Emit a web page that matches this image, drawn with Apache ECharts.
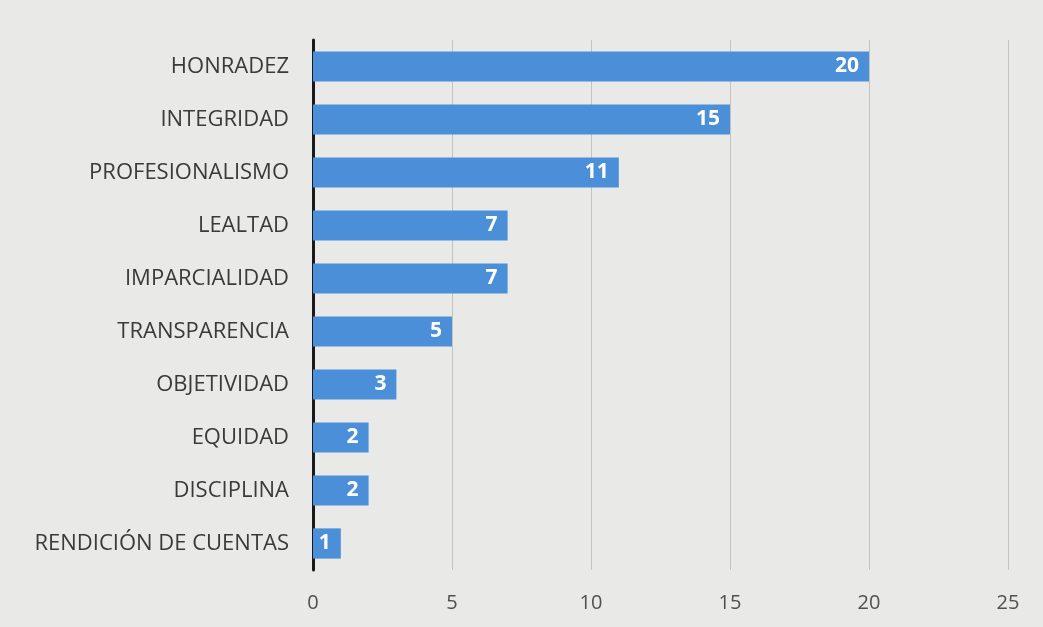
<!DOCTYPE html>
<html>
<head>
<meta charset="utf-8">
<script src="https://cdn.jsdelivr.net/npm/echarts@6/dist/echarts.min.js"></script>
<style>
html,body{margin:0;padding:0;background:#e9e9e8;}
#c{width:1043px;height:627px;}
</style>
</head>
<body>
<div id="c"></div>
<script>
const categories = ["HONRADEZ","INTEGRIDAD","PROFESIONALISMO","LEALTAD","IMPARCIALIDAD","TRANSPARENCIA","OBJETIVIDAD","EQUIDAD","DISCIPLINA","RENDICIÓN DE CUENTAS"];
const values = [20,15,11,7,7,5,3,2,2,1];
const xTicks = [0,5,10,15,20,25];

const chart = echarts.init(document.getElementById('c'));
chart.setOption({
  backgroundColor: '#e9e9e8',
  animation: false,
  grid: {left: 313, right: 35, top: 40, bottom: 57, containLabel: false},
  xAxis: {
    type: 'value', min: xTicks[0], max: xTicks[xTicks.length-1], interval: 5,
    axisLine: {show: false},
    axisTick: {show: false},
    splitLine: {show: true, lineStyle: {color: '#c2c2c2', width: 1}},
    axisLabel: {fontFamily: 'Open Sans', fontSize: 20, color: '#505050', margin: 23}
  },
  yAxis: {
    type: 'category', data: categories, inverse: true,
    axisLine: {show: true, lineStyle: {color: '#1a1a1a', width: 3}},
    axisTick: {show: false},
    axisLabel: {fontFamily: 'Open Sans', fontSize: 22, color: '#3a3a3a', margin: 24}
  },
  series: [{
    type: 'bar', data: values, barCategoryGap: '43%',
    itemStyle: {color: '#4a8fd7'},
    label: {show: true, position: 'insideRight', distance: 10, color: '#fff', fontWeight: 'bold', fontFamily: 'Open Sans', fontSize: 21}
  }]
});
</script>
</body>
</html>
